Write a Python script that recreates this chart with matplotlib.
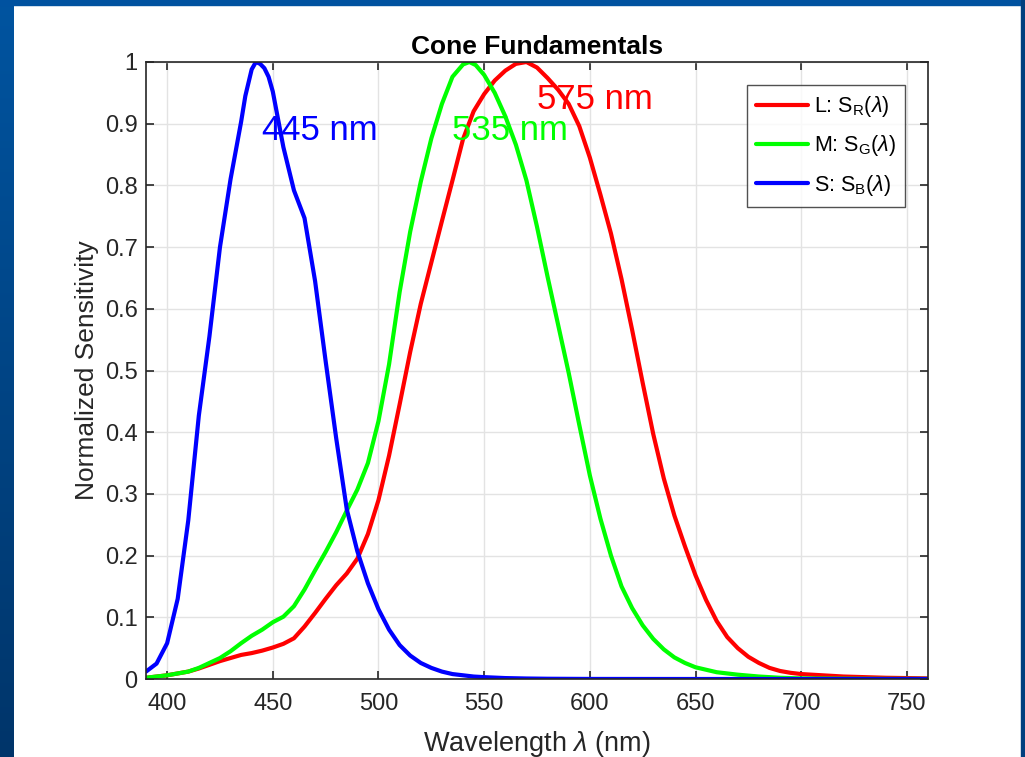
import numpy as np
import matplotlib
matplotlib.use("Agg")
import matplotlib.pyplot as plt
from matplotlib.patches import Rectangle
from matplotlib.transforms import offset_copy

plt.rcParams['font.family'] = ['Liberation Sans', 'DejaVu Sans']
plt.rcParams['mathtext.fontset'] = 'custom'
plt.rcParams['mathtext.rm'] = 'Liberation Sans'
plt.rcParams['mathtext.it'] = 'Liberation Sans:italic'

# valores (sensibilidad normalizada de los conos)
lam_L = [390, 395, 400, 405, 410, 415, 420, 425, 430, 435, 440, 445, 450, 455, 460,
         465, 470, 475, 480, 485, 490, 495, 500, 505, 510, 515, 520, 525, 530, 535,
         540, 545, 550, 555, 560, 565, 570, 575, 580, 585, 590, 595, 600, 605, 610,
         615, 620, 625, 630, 635, 640, 645, 650, 655, 660, 665, 670, 675, 680, 685,
         690, 695, 700, 710, 720, 730, 740, 750, 760]
sens_L = [0.002, 0.004, 0.006, 0.009, 0.012, 0.017, 0.023, 0.029, 0.034, 0.039, 0.042,
          0.046, 0.051, 0.057, 0.066, 0.085, 0.107, 0.130, 0.152, 0.171, 0.195, 0.235,
          0.290, 0.362, 0.445, 0.530, 0.608, 0.675, 0.742, 0.808, 0.875, 0.920, 0.948,
          0.970, 0.986, 0.997, 1.000, 0.991, 0.974, 0.955, 0.932, 0.896, 0.845, 0.785,
          0.722, 0.648, 0.566, 0.480, 0.397, 0.325, 0.265, 0.215, 0.168, 0.128, 0.094,
          0.068, 0.050, 0.036, 0.026, 0.018, 0.013, 0.010, 0.008, 0.006, 0.004, 0.003,
          0.002, 0.0015, 0.001]

lam_M = [390, 395, 400, 405, 410, 415, 420, 425, 430, 435, 440, 445, 450, 455, 460,
         465, 470, 475, 480, 485, 490, 495, 500, 505, 510, 515, 520, 525, 530, 535,
         540, 543, 546, 550, 555, 560, 565, 570, 575, 580, 585, 590, 595, 600, 605,
         610, 615, 620, 625, 630, 635, 640, 645, 650, 660, 670, 680, 690, 700, 720,
         740, 760]
sens_M = [0.002, 0.004, 0.006, 0.009, 0.012, 0.018, 0.026, 0.034, 0.045, 0.058, 0.070,
          0.080, 0.092, 0.101, 0.118, 0.145, 0.176, 0.206, 0.238, 0.273, 0.307, 0.350,
          0.418, 0.510, 0.627, 0.725, 0.806, 0.876, 0.932, 0.976, 0.996, 1.000, 0.995,
          0.979, 0.950, 0.912, 0.866, 0.808, 0.733, 0.652, 0.574, 0.496, 0.412, 0.330,
          0.260, 0.200, 0.150, 0.115, 0.087, 0.065, 0.048, 0.035, 0.026, 0.019, 0.011,
          0.007, 0.004, 0.002, 0.001, 0.0005, 0.0002, 0.0001]

lam_S = [390, 395, 400, 405, 410, 415, 420, 425, 430, 435, 437, 440, 442, 444, 446,
         448, 450, 455, 460, 465, 470, 475, 480, 485, 490, 495, 500, 505, 510, 515,
         520, 525, 530, 535, 540, 545, 550, 560, 570, 580, 600, 650, 700, 760]
sens_S = [0.012, 0.025, 0.058, 0.130, 0.257, 0.427, 0.555, 0.700, 0.810, 0.903, 0.945,
          0.988, 1.000, 0.997, 0.990, 0.976, 0.952, 0.862, 0.792, 0.747, 0.645, 0.515,
          0.390, 0.275, 0.207, 0.155, 0.113, 0.080, 0.055, 0.038, 0.026, 0.018, 0.012,
          0.008, 0.006, 0.004, 0.003, 0.0015, 0.0008, 0.0004, 0.0001, 0.0, 0.0, 0.0]

peak_labels = ['445 nm', '535 nm', '575 nm']
peak_pos = [(445, 0.9), (535, 0.9), (575, 0.95)]

fig = plt.figure(figsize=(10.25, 7.57), dpi=100, facecolor='white')

# marco azul de la diapositiva
grad = np.linspace(0, 1, 256).reshape(-1, 1)
bg = fig.add_axes([0, 0, 14 / 1025, 1])
bg.imshow(grad, aspect='auto', extent=[0, 1, 0, 1],
          cmap=matplotlib.colors.LinearSegmentedColormap.from_list('b', ['#0054a0', '#00356a']))
bg.axis('off')
fig.patches.append(Rectangle((0, 1 - 5 / 757), 1, 5 / 757, transform=fig.transFigure,
                             color='#0052a0', zorder=5))
fig.patches.append(Rectangle((1021 / 1025, 0), 4 / 1025, 1, transform=fig.transFigure,
                             color='#003f7e', zorder=5))

ax = fig.add_axes([146 / 1025, 78 / 757, (928 - 146) / 1025, (679 - 62) / 757])

kw = dict(lw=3, solid_joinstyle='round', solid_capstyle='round')
ax.plot(lam_L, sens_L, color='#ff0000', label=r'L: S$_\mathregular{R}$($\lambda$)', **kw)
ax.plot(lam_M, sens_M, color='#00ff00', label=r'M: S$_\mathregular{G}$($\lambda$)', **kw)
ax.plot(lam_S, sens_S, color='#0000ff', label=r'S: S$_\mathregular{B}$($\lambda$)', **kw)

# etiquetas de los picos (un poco mas abajo, como el "middle" de MATLAB)
tr = offset_copy(ax.transData, fig=fig, y=-5, units='points')
for txt, (x, y), c in zip(peak_labels, peak_pos, ['#0000ff', '#00ff00', '#ff0000']):
    ax.text(x, y, txt, color=c, fontsize=25, ha='left', va='center', transform=tr)

ax.set_xlim(390, 760)
ax.set_ylim(0, 1)
ax.set_xticks(np.arange(400, 751, 50))
ax.set_yticks(np.arange(0, 1.01, 0.1))
ax.set_yticklabels(['0', '0.1', '0.2', '0.3', '0.4', '0.5', '0.6', '0.7', '0.8', '0.9', '1'])
ax.grid(True, color='#e3e3e3', lw=1)
ax.set_axisbelow(True)
ax.tick_params(direction='in', length=6, width=1.2, colors='#262626', labelsize=17,
               top=True, right=True)
ax.tick_params(axis='x', pad=10)
ax.tick_params(axis='y', pad=6)
for s in ax.spines.values():
    s.set_color('#262626')
    s.set_linewidth(1.2)

ax.set_title('Cone Fundamentals', fontsize=19, fontweight='bold', pad=6)
ax.set_xlabel(r'Wavelength $\lambda$ (nm)', fontsize=19.5, color='#262626', labelpad=10)
ax.set_ylabel('Normalized Sensitivity', fontsize=19, color='#262626')

leg = ax.legend(loc='upper right', fontsize=15.5, frameon=True, fancybox=False,
                edgecolor='#262626', handlelength=2.4, handletextpad=0.25,
                borderaxespad=1.05, labelspacing=0.66, borderpad=0.45)
leg.get_frame().set_linewidth(1.0)

plt.savefig('out.png', dpi=100, facecolor='white')
